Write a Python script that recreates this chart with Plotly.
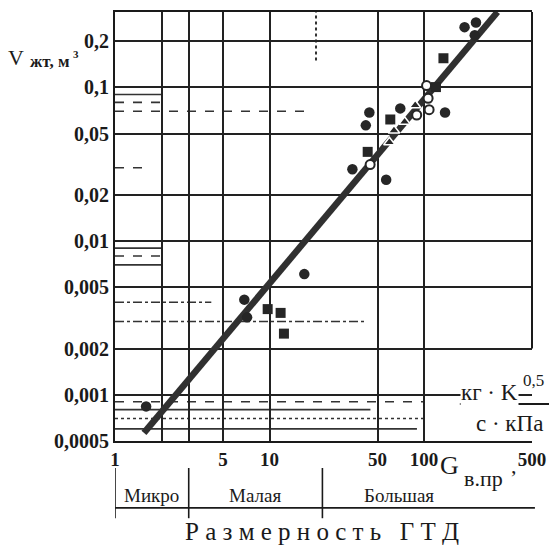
import math
import plotly.graph_objects as go

# ---- axis ticks ----
x_tick_vals = [1, 5, 10, 50, 100, 500]
x_tick_text = ["1", "5", "10", "50", "100", "500"]
x_minor_grid = [2, 3]
y_tick_vals = [0.0005, 0.001, 0.002, 0.005, 0.01, 0.02, 0.05, 0.1, 0.2]
y_tick_text = ["0,0005", "0,001", "0,002", "0,005", "0,01", "0,02", "0,05", "0,1", "0,2"]

# ---- data ----
filled_circle_x = [1.59, 6.87, 7.16, 16.8, 34.4, 42.0, 44.3, 56.9, 70.2, 136.8, 183, 217, 213]
filled_circle_y = [0.00084, 0.00416, 0.00319, 0.0061, 0.0294, 0.0567, 0.0687, 0.0251, 0.0731,
                   0.0687, 0.247, 0.265, 0.219]
square_x = [9.73, 11.8, 12.4, 43.2, 60.5, 119.5, 133.6]
square_y = [0.00361, 0.00341, 0.00250, 0.0381, 0.0619, 0.1006, 0.155]
open_circle_x = [44.8, 89.7, 103.9, 106.3, 107.9]
open_circle_y = [0.0315, 0.0662, 0.103, 0.0851, 0.0717]
triangle_x = [59.7, 63.9, 74.9, 87.7]
triangle_y = [0.0440, 0.0525, 0.0599, 0.0767]
fit_x = [1.54, 299]
fit_y = [0.000565, 0.31]

# engine size classes
region_names = ["Микро", "Малая", "Большая"]
region_bounds = [1, 3, 22, 500]
region_label_x = [1.73, 8.0, 69]

# partial (erased) grid lines of the original sheet: (y, x_from, x_to, dash)
partial_h_lines = [
    (0.09, 1, 2, "solid"), (0.08, 1, 2, "dash"), (0.07, 1, 18, "dash"),
    (0.03, 1, 1.6, "dash"),
    (0.009, 1, 2, "solid"), (0.008, 1, 2, "dash"), (0.007, 1, 2, "solid"),
    (0.004, 1, 4.2, "dashdot"), (0.003, 1, 42, "dashdot"),
    (0.0009, 1, 100, "dash"), (0.0008, 1, 45, "solid"),
    (0.0007, 1, 100, "dot"), (0.0006, 1, 90, "solid"),
]
partial_v_lines = [(20, 0.15, 0.31, "dot")]

INK = "#262626"
SERIF = "Liberation Serif, Times New Roman, serif"

fig = go.Figure()

fig.add_trace(go.Scatter(x=fit_x, y=fit_y, mode="lines",
                         line=dict(color="#303030", width=6.5), hoverinfo="skip"))
fig.add_trace(go.Scatter(x=filled_circle_x, y=filled_circle_y, mode="markers",
                         marker=dict(symbol="circle", size=10.5, color=INK)))
fig.add_trace(go.Scatter(x=square_x, y=square_y, mode="markers",
                         marker=dict(symbol="square", size=10, color=INK)))
fig.add_trace(go.Scatter(x=triangle_x, y=triangle_y, mode="markers",
                         marker=dict(symbol="triangle-up", size=10, color=INK,
                                     line=dict(color="white", width=1.5))))
fig.add_trace(go.Scatter(x=open_circle_x, y=open_circle_y, mode="markers",
                         marker=dict(symbol="circle", size=9, color="white",
                                     line=dict(color=INK, width=2))))

shapes = []
for y, x0, x1, d in partial_h_lines:
    shapes.append(dict(type="line", xref="x", yref="y", x0=x0, x1=x1, y0=y, y1=y,
                       line=dict(color="#333", width=1.6, dash=d), layer="below"))
for x, y0, y1, d in partial_v_lines:
    shapes.append(dict(type="line", xref="x", yref="y", x0=x, x1=x, y0=y0, y1=y1,
                       line=dict(color="#333", width=2, dash=d), layer="below"))
# right border (interrupted near the unit label)
shapes.append(dict(type="line", xref="paper", yref="y", x0=1, x1=1, y0=0.002, y1=0.31,
                   line=dict(color="#1a1a1a", width=2)))
# size class bar below the axis
for b in region_bounds[:-1]:
    shapes.append(dict(type="line", xref="x", yref="paper", x0=b, x1=b, y0=-0.063, y1=-0.18,
                       line=dict(color="#1a1a1a", width=1.6)))
shapes.append(dict(type="line", xref="paper", yref="paper", x0=0, x1=1.007, y0=-0.156, y1=-0.156,
                   line=dict(color="#1a1a1a", width=1.6)))
# fraction bar of the unit
shapes.append(dict(type="line", xref="paper", yref="paper", x0=0.827, x1=1.043, y0=0.086, y1=0.086,
                   line=dict(color="#1a1a1a", width=2)))

ann = []
def a(text, x, y, size, bold=False, bg=None, xanchor="center"):
    ann.append(dict(text=text, x=x, y=y, xref="paper", yref="paper",
                    showarrow=False, xanchor=xanchor, yanchor="middle",
                    bgcolor=bg if bg else "rgba(0,0,0,0)", borderpad=0,
                    font=dict(family=SERIF, size=size, color="#1a1a1a",
                              weight="bold" if bold else "normal")))

# y-axis title
a("V", -0.238, 0.893, 22)
a("жт, м", -0.156, 0.884, 17, bold=True)
a("3", -0.093, 0.902, 11, bold=True)
# x-axis title and unit
a("кг · K", 0.899, 0.112, 23, bg="white")
a("0,5", 1.004, 0.142, 17)
a("с · кПа", 0.947, 0.040, 23)
a("G", 0.803, -0.058, 26)
a("в.пр", 0.884, -0.088, 22)
a(",", 0.956, -0.056, 22)
# size classes
for name, lx in zip(region_names, region_label_x):
    ann.append(dict(text=name, x=math.log10(lx), y=-0.128, xref="x", yref="paper",
                    showarrow=False, xanchor="center", yanchor="middle",
                    font=dict(family=SERIF, size=19, color="#1a1a1a")))
a("Р а з м е р н о с т ь\u00a0\u00a0\u00a0Г Т Д", 0.496, -0.212, 25)

fig.update_layout(
    width=549, height=548,
    margin=dict(l=115, r=17, t=12, b=107, autoexpand=False),
    paper_bgcolor="white", plot_bgcolor="white",
    showlegend=False,
    shapes=shapes, annotations=ann,
    xaxis=dict(type="log", range=[0, math.log10(500)], automargin=False,
               tickmode="array", tickvals=x_tick_vals, ticktext=x_tick_text,
               showgrid=True, gridcolor="#222", gridwidth=2,
               minor=dict(tickmode="array", tickvals=x_minor_grid, showgrid=True,
                          gridcolor="#222", gridwidth=2, ticks=""),
               showline=True, mirror=True, linecolor="#1a1a1a", linewidth=2,
               ticks="", tickfont=dict(family=SERIF, size=19, color="#1a1a1a", weight="bold")),
    yaxis=dict(type="log", range=[math.log10(0.0005), math.log10(0.31)], automargin=False,
               tickmode="array", tickvals=y_tick_vals, ticktext=y_tick_text,
               showgrid=True, gridcolor="#222", gridwidth=2,
               showline=True, mirror=False, linecolor="#1a1a1a", linewidth=2,
               ticks="", tickfont=dict(family=SERIF, size=20, color="#1a1a1a", weight="bold")),
)

fig.write_html("out.html", config={"displayModeBar": False},
               post_script="document.body.style.margin='0';")
